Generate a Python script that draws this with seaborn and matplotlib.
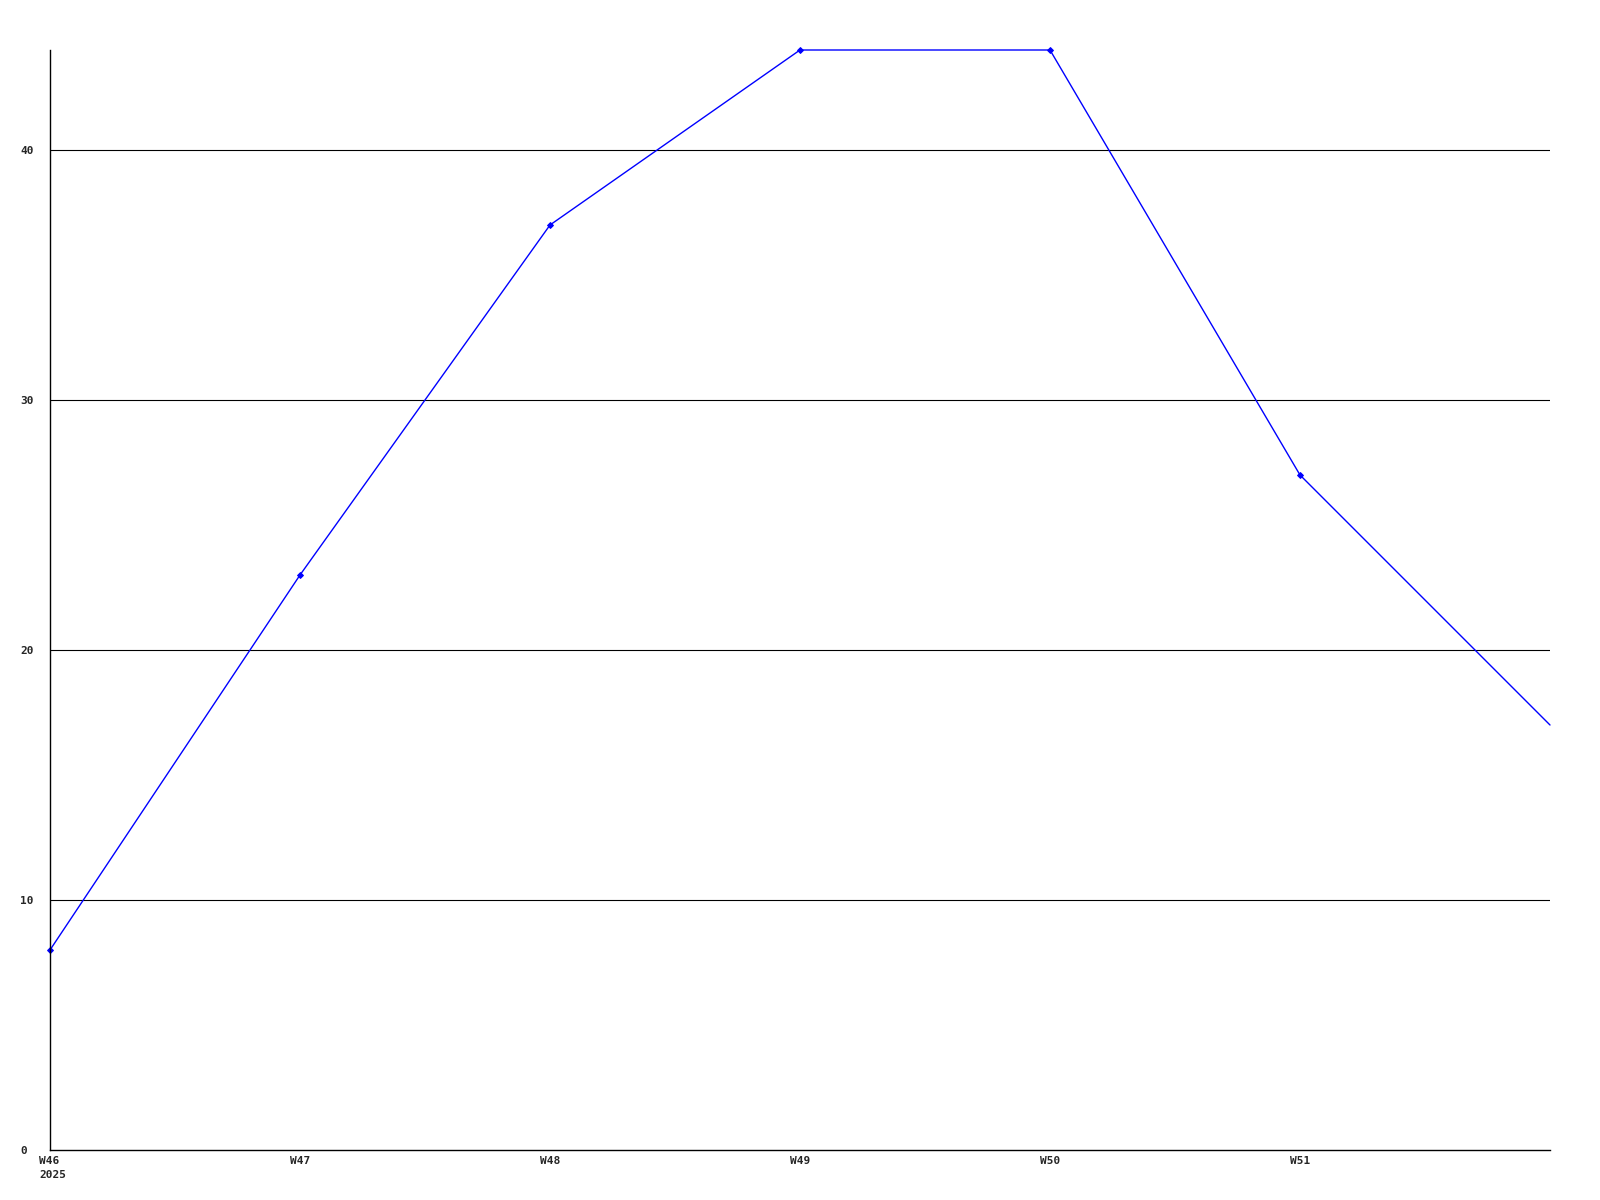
import matplotlib
matplotlib.use("Agg")
import matplotlib.pyplot as plt
import matplotlib.transforms as mtransforms
import seaborn as sns
import pandas as pd

weeks = ["W46", "W47", "W48", "W49", "W50", "W51", "W52"]
values = [8, 23, 37, 44, 44, 27, 17]
tick_labels = ["W46\n2025", "W47", "W48", "W49", "W50", "W51"]
y_ticks = [0, 10, 20, 30, 40]

sns.set_style("white")
plt.rcParams['font.family'] = ['DejaVu Sans Mono', 'DejaVu Sans']

df = pd.DataFrame({"idx": list(range(len(weeks))), "week": weeks, "value": values})

fig = plt.figure(figsize=(16, 12), dpi=100)
ax = fig.add_axes([50/1600, 1 - 1150/1200, 1500/1600, 1100/1200])

sns.lineplot(data=df, x="idx", y="value", ax=ax, color="#0000ff", linewidth=1.0,
             marker="D", markersize=3, markeredgecolor="#0000ff",
             markevery=list(range(len(weeks) - 1)), clip_on=False)

ax.set_xlim(0, 6)
ax.set_ylim(0, 44)
ax.set_xticks(range(len(tick_labels)))
ax.set_xticklabels(tick_labels, fontsize=8, fontweight="bold", linespacing=1.6)
ax.set_yticks(y_ticks)
ax.set_yticklabels([str(v) for v in y_ticks], fontsize=8, fontweight="bold")
ax.tick_params(axis="both", length=0)
ax.tick_params(axis="x", pad=4)
ax.tick_params(axis="y", pad=21.6)
for lab in ax.get_yticklabels():
    lab.set_horizontalalignment("left")

first = ax.get_xticklabels()[0]
first.set_horizontalalignment("left")
first.set_multialignment("left")
first.set_transform(first.get_transform() + mtransforms.ScaledTranslation(-11/100, 0, fig.dpi_scale_trans))

for v in [10, 20, 30, 40]:
    ax.axhline(v, color="black", linewidth=0.8, zorder=0)

ax.set_xlabel("")
ax.set_ylabel("")
for s in ["top", "right"]:
    ax.spines[s].set_visible(False)
for s in ["left", "bottom"]:
    ax.spines[s].set_color("black")
    ax.spines[s].set_linewidth(1.0)

fig.savefig("out.png", dpi=100, facecolor="white")
